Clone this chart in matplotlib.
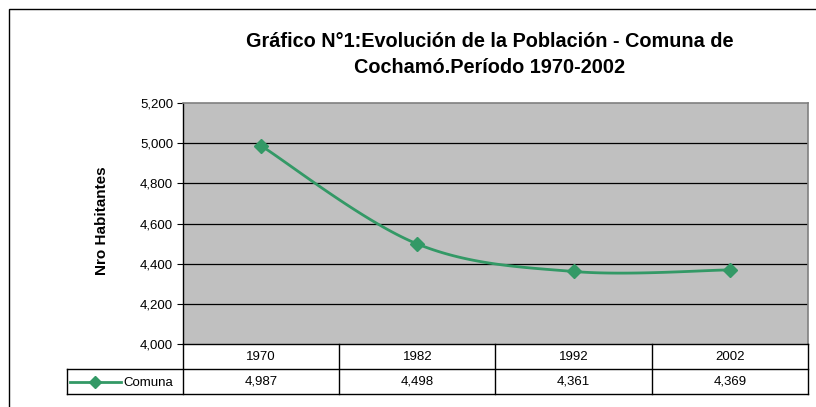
import numpy as np
import matplotlib
matplotlib.use("Agg")
import matplotlib.pyplot as plt
from matplotlib.lines import Line2D
from matplotlib.patches import Rectangle
from matplotlib.ticker import FuncFormatter

# ---- data ----
years = ["1970", "1982", "1992", "2002"]
population = [4987, 4498, 4361, 4369]
series_name = "Comuna"
title_lines = ["Gráfico N°1:Evolución de la Población - Comuna de",
               "Cochamó.Período 1970-2002"]
ylabel = "Nro Habitantes"
yticks = [4000, 4200, 4400, 4600, 4800, 5000, 5200]

W, H = 816, 407
DPI = 100
plt.rcParams['font.family'] = ['Liberation Sans', 'DejaVu Sans']

fig = plt.figure(figsize=(W / DPI, H / DPI), dpi=DPI)
fig.patch.set_facecolor("white")


def fx(x):
    return x / W


def fy(y):
    return 1 - y / H


# outer chart border (cut at right/bottom)
fig.add_artist(Rectangle((fx(9), fy(420)), fx(830) - fx(9), fy(9) - fy(420),
                         transform=fig.transFigure, fill=False,
                         edgecolor="black", linewidth=1.0, clip_on=False))

L, R, T, B = 183, 808, 103, 344
ax = fig.add_axes([fx(L), fy(B), fx(R) - fx(L), fy(T) - fy(B)])
ax.set_facecolor("#C0C0C0")
n = len(years)
ax.set_xlim(-0.5, n - 0.5)
ax.set_ylim(yticks[0], yticks[-1])
ax.set_yticks(yticks)
ax.yaxis.set_major_formatter(FuncFormatter(lambda v, p: f"{int(v):,}"))
ax.tick_params(axis='y', length=4, width=0.8, labelsize=9.5, pad=3, colors="black")
ax.set_xticks([])
for g in yticks[1:-1]:
    ax.axhline(g, color="black", linewidth=0.9, zorder=1)
for side in ["top", "right"]:
    ax.spines[side].set_color("#808080")
    ax.spines[side].set_linewidth(1.2)
for side in ["left", "bottom"]:
    ax.spines[side].set_color("black")
    ax.spines[side].set_linewidth(1.0)

# Excel-like smoothed line (Bezier with 1/6 tangents)
xs = np.arange(n, dtype=float)
ys = np.array(population, dtype=float)
pts = np.column_stack([xs, ys])
curve = []
t = np.linspace(0, 1, 40)
for i in range(n - 1):
    p0 = pts[max(i - 1, 0)]
    p1 = pts[i]
    p2 = pts[i + 1]
    p3 = pts[min(i + 2, n - 1)]
    c1 = p1 + (p2 - p0) / 6
    c2 = p2 - (p3 - p1) / 6
    seg = ((1 - t) ** 3)[:, None] * p1 + (3 * (1 - t) ** 2 * t)[:, None] * c1 \
        + (3 * (1 - t) * t ** 2)[:, None] * c2 + (t ** 3)[:, None] * p2
    curve.append(seg)
curve = np.vstack(curve)
green = "#339966"
ax.plot(curve[:, 0], curve[:, 1], color=green, linewidth=2.0, zorder=3,
        solid_capstyle="round")
ax.plot(xs, ys, linestyle="none", marker="D", markersize=7.5, color=green, zorder=4)

fig.text(fx(102), fy(221), ylabel, rotation=90, fontsize=11, fontweight="bold",
         ha="center", va="center")

# title (two lines, baselines ~47 and ~73 px)
for line, base in zip(title_lines, [47, 73]):
    fig.text(fx(490), fy(base), line, ha="center", va="baseline", fontsize=14.3,
             fontweight="bold")

# data table
r1t, r1b, r2b = 344, 369, 394
legL = 67
colw = (R - L) / n
lw = 1.0
def hline(y, x0, x1):
    fig.add_artist(Line2D([fx(x0), fx(x1)], [fy(y), fy(y)], transform=fig.transFigure,
                          color="black", linewidth=lw))
def vline(x, y0, y1):
    fig.add_artist(Line2D([fx(x), fx(x)], [fy(y0), fy(y1)], transform=fig.transFigure,
                          color="black", linewidth=lw))

hline(r1b, legL, R)
hline(r2b, legL, R)
vline(legL, r1b, r2b)
for i in range(n + 1):
    vline(L + i * colw, r1t, r2b)
for i, (yr, v) in enumerate(zip(years, population)):
    cx = L + (i + 0.5) * colw
    fig.text(fx(cx), fy((r1t + r1b) / 2), yr, ha="center", va="center", fontsize=9.5)
    fig.text(fx(cx), fy((r1b + r2b) / 2), f"{v:,}", ha="center", va="center", fontsize=9.5)

# legend key in table
ym = (r1b + r2b) / 2
fig.add_artist(Line2D([fx(legL + 3), fx(121)], [fy(ym), fy(ym)], transform=fig.transFigure,
                      color=green, linewidth=2.0))
fig.add_artist(Line2D([fx(95)], [fy(ym)], transform=fig.transFigure, marker="D",
                      markersize=6.5, color=green, linestyle="none"))
fig.text(fx(123), fy(ym), series_name, ha="left", va="center_baseline", fontsize=9.5)

fig.savefig("out.png", dpi=DPI, facecolor="white")
